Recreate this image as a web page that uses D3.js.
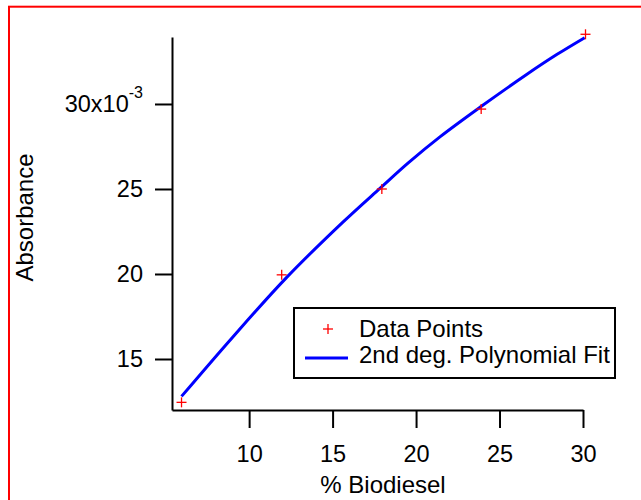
<!DOCTYPE html>
<html>
<head>
<meta charset="utf-8">
<script src="https://cdn.jsdelivr.net/npm/d3@7"></script>
<style>
  body { margin: 0; background: #fff; }
  svg { display: block; font-family: "Liberation Sans", Arial, sans-serif; }
</style>
</head>
<body>
<div id="chart"></div>
<script>
const pointX = [5.95, 11.95, 17.95, 23.9, 30.15];
const pointY = [0.01245, 0.01995, 0.0250, 0.0297, 0.0341];

// 2nd degree polynomial fit, sampled along the drawn curve
const fitX = [5.95, 9.0, 12.25, 15.65, 17.85, 19.55, 21.45, 23.85, 26.6, 28.45, 30.1];
const fitY = [0.0128, 0.01627, 0.0198, 0.02308, 0.02505, 0.02655, 0.02808, 0.02982, 0.03172, 0.03292, 0.0339];

const xTicks = [10, 15, 20, 25, 30];
const yTicks = [0.015, 0.020, 0.025, 0.030];

const legendLabels = ["Data Points", "2nd deg. Polynomial Fit"];

const width = 641, height = 500;

let svg = d3.select("#chart")
    .append("svg")
    .attr("width", width)
    .attr("height", height);

// red frame (only left and top are inside the picture)
svg.append("rect")
    .attr("x", 9)
    .attr("y", 6.7)
    .attr("width", 700)
    .attr("height", 600)
    .attr("fill", "none")
    .attr("stroke", "#ff0000")
    .attr("stroke-width", 2);

let x = d3.scaleLinear()
    .domain([5.38, 30])
    .range([172, 583]);

let y = d3.scaleLinear()
    .domain([0.0120, 0.03394])
    .range([410, 37]);

// axes
let xAxis = svg.append("g")
    .attr("transform", `translate(0, 410)`)
    .call(d3.axisBottom(x).tickValues(xTicks).tickSize(18).tickSizeOuter(0).tickPadding(17));

let yAxis = svg.append("g")
    .attr("transform", `translate(172, 0)`)
    .call(d3.axisLeft(y).tickValues(yTicks).tickSize(17).tickSizeOuter(0).tickPadding(12)
        .tickFormat(d => d3.format(".0f")(d * 1000)));

[xAxis, yAxis].forEach(function(a) {
    a.selectAll("path, line").attr("stroke", "#000").attr("stroke-width", 2);
    a.selectAll("text")
        .attr("fill", "#000")
        .style("font-size", "23.5px")
        .style("font-family", "'Liberation Sans', Arial, sans-serif");
});

// top y tick gets the x10^-3 exponent
yAxis.selectAll(".tick text")
    .filter(d => Math.abs(d - 0.030) < 1e-9)
    .each(function(d) {
        let t = d3.select(this).text("");
        t.append("tspan").text("30x10");
        t.append("tspan")
            .attr("dy", -14)
            .style("font-size", "16px")
            .text("-3");
    });

// axis titles
svg.append("text")
    .attr("x", 383)
    .attr("y", 493)
    .style("text-anchor", "middle")
    .style("font-size", "24px")
    .text("% Biodiesel");

svg.append("text")
    .attr("transform", `translate(33, 217.5)rotate(-90)`)
    .style("text-anchor", "middle")
    .style("font-size", "24px")
    .text("Absorbance");

// fit curve
let fitData = fitX.map((v, i) => ({x: v, y: fitY[i]}));
let line = d3.line()
    .x(d => x(d.x))
    .y(d => y(d.y))
    .curve(d3.curveCatmullRom);

svg.append("path")
    .datum(fitData)
    .attr("d", line)
    .attr("fill", "none")
    .attr("stroke", "#0000ff")
    .attr("stroke-width", 3);

// data points as red plus markers
let pts = pointX.map((v, i) => ({x: v, y: pointY[i]}));
const plus = 5;
let marks = svg.append("g").selectAll("g").data(pts).enter().append("g")
    .attr("transform", d => `translate(${x(d.x)}, ${y(d.y)})`);
marks.append("line").attr("x1", -plus).attr("x2", plus).attr("y1", 0).attr("y2", 0);
marks.append("line").attr("x1", 0).attr("x2", 0).attr("y1", -plus).attr("y2", plus);
marks.selectAll("line").attr("stroke", "#ff0000").attr("stroke-width", 1.3);

// legend
let legend = svg.append("g");
legend.append("rect")
    .attr("x", 294)
    .attr("y", 308)
    .attr("width", 321)
    .attr("height", 70)
    .attr("fill", "#fff")
    .attr("stroke", "#000")
    .attr("stroke-width", 2);

let lp = legend.append("g").attr("transform", "translate(328, 329)");
lp.append("line").attr("x1", -plus).attr("x2", plus);
lp.append("line").attr("y1", -plus).attr("y2", plus);
lp.selectAll("line").attr("stroke", "#ff0000").attr("stroke-width", 1.3);

legend.append("line")
    .attr("x1", 305).attr("x2", 348)
    .attr("y1", 358).attr("y2", 358)
    .attr("stroke", "#0000ff")
    .attr("stroke-width", 3);

legend.selectAll("text.lbl").data(legendLabels).enter().append("text")
    .attr("class", "lbl")
    .attr("x", 359)
    .attr("y", (d, i) => 337 + i * 26)
    .style("font-size", "24px")
    .text(d => d);
</script>
</body>
</html>
